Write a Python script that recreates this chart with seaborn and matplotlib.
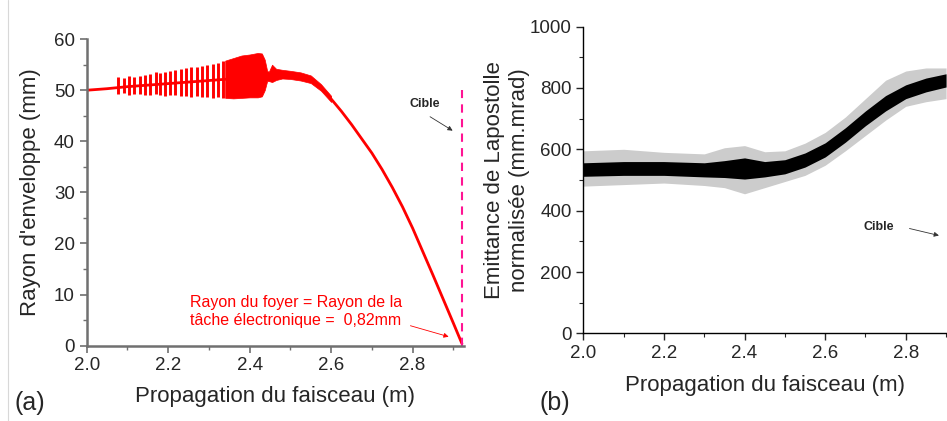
import numpy as np
import pandas as pd
import seaborn as sns
import matplotlib
matplotlib.use("Agg")
import matplotlib.pyplot as plt
from matplotlib.lines import Line2D
from matplotlib.ticker import MultipleLocator

# (a) rayon d'enveloppe - ligne moyenne
env_x = [2.0, 2.05, 2.1, 2.15, 2.2, 2.25, 2.3, 2.35, 2.4, 2.44, 2.46, 2.5, 2.525, 2.55,
         2.575, 2.6, 2.625, 2.65, 2.675, 2.7, 2.725, 2.75, 2.775, 2.8, 2.85, 2.9, 2.921]
env_y = [50.0, 50.3, 50.7, 51.0, 51.3, 51.6, 51.9, 52.2, 52.6, 52.8, 53.2, 53.0, 52.8, 52.2,
         50.6, 48.3, 45.9, 43.3, 40.5, 37.7, 34.5, 31.0, 27.2, 23.0, 13.8, 4.4, 0.4]

# pics d'oscillation (position, min, max)
spike_x = [2.078, 2.091, 2.103, 2.117, 2.130, 2.143, 2.156, 2.169, 2.180, 2.193, 2.205,
           2.218, 2.231, 2.244, 2.257, 2.270, 2.283, 2.296, 2.309, 2.322, 2.335]
spike_lo = [49.3, 49.5, 49.0, 49.2, 49.3, 49.0, 49.0, 49.3, 49.0, 48.9, 49.0,
            49.1, 48.8, 48.9, 48.7, 48.8, 48.6, 48.7, 48.5, 48.6, 48.5]
spike_hi = [52.5, 52.3, 52.8, 52.6, 52.8, 53.0, 53.2, 53.5, 53.4, 53.6, 53.8,
            54.0, 54.2, 54.3, 54.5, 54.6, 54.8, 55.0, 55.2, 55.4, 55.7]

# zone dense
band_x = [2.34, 2.36, 2.38, 2.40, 2.42, 2.43, 2.437, 2.443, 2.447, 2.455, 2.465, 2.48,
          2.5, 2.525, 2.55, 2.575, 2.6]
band_lo = [48.5, 48.4, 48.5, 48.6, 48.6, 48.8, 50.0, 51.8, 51.8, 51.6, 52.0, 52.3,
           52.2, 51.9, 51.4, 49.9, 47.7]
band_hi = [55.8, 56.3, 56.8, 57.0, 57.3, 57.2, 56.0, 53.8, 53.6, 55.0, 54.2, 54.0,
           53.8, 53.5, 52.9, 51.2, 48.9]

# (b) emittance
emi_x = [2.0, 2.1, 2.2, 2.3, 2.35, 2.4, 2.45, 2.5, 2.55, 2.6, 2.65, 2.7, 2.75, 2.8, 2.85, 2.9]
emi_y = [535, 538, 538, 533, 536, 538, 536, 543, 565, 598, 647, 701, 750, 788, 810, 826]
emi_in_lo = [512, 515, 515, 510, 508, 503, 510, 520, 542, 575, 623, 677, 725, 765, 787, 803]
emi_in_hi = [556, 560, 560, 556, 563, 572, 560, 566, 588, 621, 670, 725, 775, 810, 832, 846]
emi_out_lo = [480, 485, 490, 482, 475, 455, 475, 495, 515, 548, 595, 645, 695, 740, 755, 765]
emi_out_hi = [595, 600, 590, 585, 605, 612, 592, 595, 620, 655, 705, 765, 825, 855, 865, 865]

env = pd.DataFrame({"x": env_x, "y": env_y})
emi = pd.DataFrame({"x": emi_x, "y": emi_y})

sns.set_style("ticks")
plt.rcParams["font.family"] = ["Liberation Sans", "DejaVu Sans"]

fig = plt.figure(figsize=(9.47, 4.21), dpi=100)
ax1 = fig.add_axes([0.0915, 0.179, 0.398, 0.728])
ax2 = fig.add_axes([0.616, 0.208, 0.383, 0.729])

# ---- (a)
ax1.vlines(spike_x, spike_lo, spike_hi, color="red", lw=2.1)
ax1.fill_between(band_x, band_lo, band_hi, color="red", lw=0.5, edgecolor="red")
sns.lineplot(data=env, x="x", y="y", ax=ax1, color="red", lw=2.0)
ax1.vlines([2.9206], 0, 50, color="#ff1493", lw=1.5, linestyles=(0, (4, 3)))
ax1.annotate("", xy=(2.904, 41.8), xytext=(2.837, 45.1),
             arrowprops=dict(arrowstyle="-|>", color="#333333", lw=0.6, mutation_scale=7))
ax1.text(2.829, 47.3, "Cible", fontsize=9, fontweight="bold", ha="center", va="center")
ax1.text(2.253, 6.7, "Rayon du foyer = Rayon de la\ntâche électronique =  0,82mm",
         color="red", fontsize=11.5, ha="left", va="center", linespacing=1.2)
ax1.annotate("", xy=(2.895, 1.6), xytext=(2.788, 4.05),
             arrowprops=dict(arrowstyle="-|>", color="red", lw=0.6, mutation_scale=7))
ax1.set_xlim(2.0, 2.925)
ax1.set_ylim(0, 60)
ax1.xaxis.set_major_locator(MultipleLocator(0.2))
ax1.xaxis.set_minor_locator(MultipleLocator(0.1))
ax1.yaxis.set_major_locator(MultipleLocator(10))
ax1.yaxis.set_minor_locator(MultipleLocator(5))
ax1.set_xticks([2.0, 2.2, 2.4, 2.6, 2.8])
ax1.set_xticklabels(["2.0", "2.2", "2.4", "2.6", "2.8"])
ax1.set_xlabel("Propagation du faisceau (m)", fontsize=16, labelpad=8)
ax1.set_ylabel("Rayon d'enveloppe (mm)", fontsize=16, labelpad=9)
for s in ["left", "bottom"]:
    ax1.spines[s].set_color("#707070")
    ax1.spines[s].set_linewidth(1.8)
ax1.tick_params(which="major", length=5, width=1.2, color="#707070", labelsize=13.5)
ax1.tick_params(which="minor", length=3, width=1.0, color="#707070")
sns.despine(ax=ax1)

# ---- (b)
ax2.fill_between(emi_x, emi_out_lo, emi_out_hi, color="#cccccc", lw=0)
ax2.fill_between(emi_x, emi_in_lo, emi_in_hi, color="black", lw=0)
sns.lineplot(data=emi, x="x", y="y", ax=ax2, color="black", lw=1.0)
ax2.annotate("", xy=(2.889, 317), xytext=(2.8025, 344),
             arrowprops=dict(arrowstyle="-|>", color="#333333", lw=0.6, mutation_scale=7))
ax2.text(2.7326, 347.7, "Cible", fontsize=9, fontweight="bold", ha="center", va="center")
ax2.set_xlim(2.0, 2.9)
ax2.set_ylim(0, 1000)
ax2.set_xticks([2.0, 2.2, 2.4, 2.6, 2.8])
ax2.set_xticklabels(["2.0", "2.2", "2.4", "2.6", "2.8"])
ax2.xaxis.set_minor_locator(MultipleLocator(0.1))
ax2.yaxis.set_major_locator(MultipleLocator(200))
ax2.yaxis.set_minor_locator(MultipleLocator(100))
ax2.set_xlabel("Propagation du faisceau (m)", fontsize=16, labelpad=9)
ax2.set_ylabel("Emittance de Lapostolle\nnormalisée (mm.mrad)", fontsize=16, labelpad=0)
for s in ["left", "bottom"]:
    ax2.spines[s].set_color("black")
    ax2.spines[s].set_linewidth(1.0)
ax2.tick_params(which="major", length=5, width=1.0, labelsize=13.5)
ax2.tick_params(which="minor", length=3, width=0.8)
sns.despine(ax=ax2)

fig.text(0.032, 0.043, "(a)", fontsize=18, ha="center", va="center")
fig.text(0.586, 0.043, "(b)", fontsize=18, ha="center", va="center")
fig.add_artist(Line2D([0.0085, 0.0085], [0, 1], color="#d8d8d8", lw=0.8))

fig.savefig("out.png", dpi=100)
